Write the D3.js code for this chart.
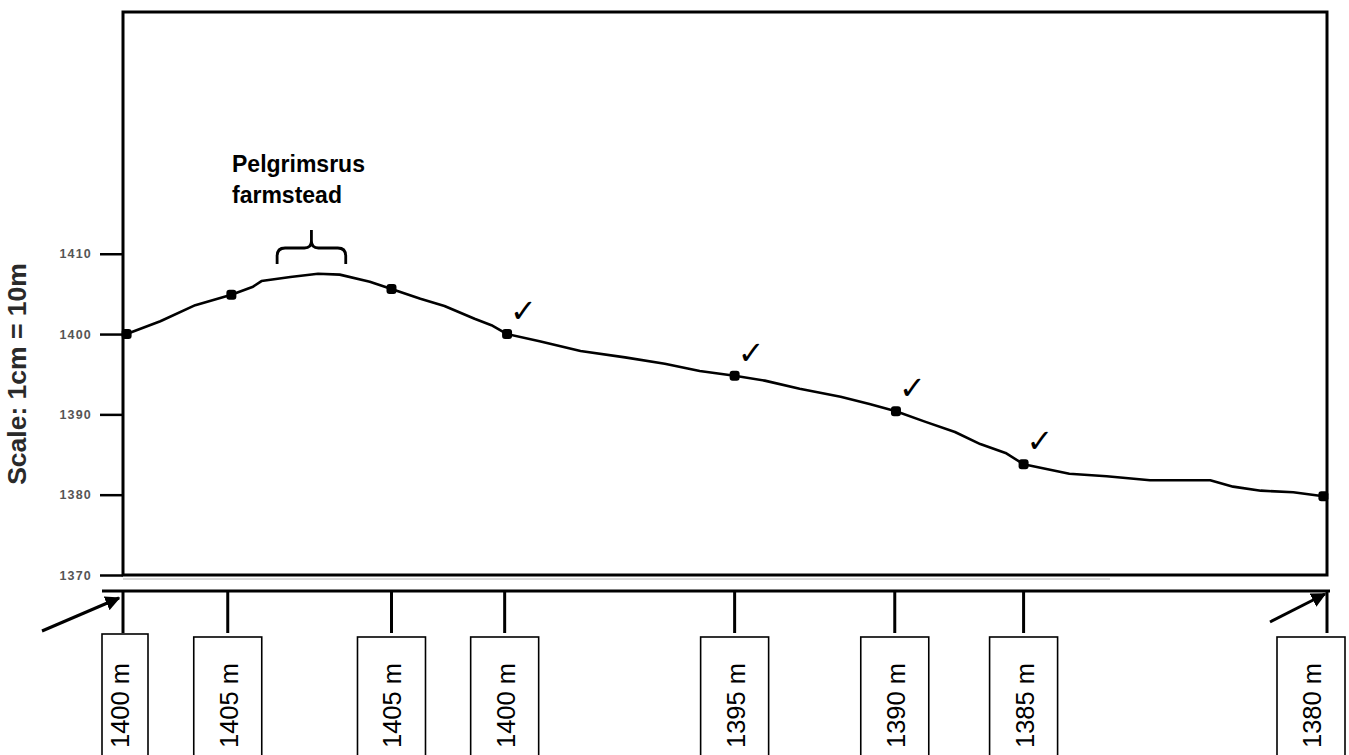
<!DOCTYPE html>
<html>
<head>
<meta charset="utf-8">
<script src="https://cdn.jsdelivr.net/npm/d3@7"></script>
<style>
  html, body { margin: 0; padding: 0; background: #fff; }
  svg { display: block; }
</style>
</head>
<body>
<svg id="chart" width="1349" height="755"></svg>
<script>
// ---- data ----
// profile trace: distance along section (0..100 units) and elevation (m)
const profileDist = [0.3, 3.1, 6.0, 9.0, 10.8, 11.5, 13.9, 16.2, 18.0, 20.5, 22.3, 24.7, 26.7, 29.2, 30.6, 31.9,
  34.6, 38.0, 41.7, 45.0, 47.9, 50.8, 53.3, 56.2, 59.6, 62.0, 64.2, 66.6, 69.1, 71.2, 73.3, 74.8,
  78.6, 81.7, 85.3, 90.3, 92.2, 94.5, 97.2, 99.7];
const profileElev = [1400.0, 1401.6, 1403.6, 1404.9, 1405.9, 1406.6, 1407.1, 1407.5, 1407.4, 1406.5, 1405.6, 1404.4, 1403.5, 1401.9, 1401.1, 1400.0,
  1399.1, 1397.9, 1397.1, 1396.3, 1395.4, 1394.8, 1394.2, 1393.2, 1392.2, 1391.3, 1390.4, 1389.1, 1387.8, 1386.3, 1385.2, 1383.8,
  1382.6, 1382.3, 1381.8, 1381.8, 1381.0, 1380.5, 1380.3, 1379.8];
// marked stations on the profile
const stationDist = [0.3, 9.0, 22.3, 31.9, 50.8, 64.2, 74.8, 99.7];
const stationElev = [1400.0, 1404.9, 1405.6, 1400.0, 1394.8, 1390.4, 1383.8, 1379.8];
const stationChecked = [false, false, false, true, true, true, true, false];
// lower reference strip: tick positions and labels
const stripDist = [0, 8.7, 22.3, 31.7, 50.8, 64.1, 74.8, 100];
const stripLabels = ["1400 m", "1405 m", "1405 m", "1400 m", "1395 m", "1390 m", "1385 m", "1380 m"];
// y-axis
const yTicks = [1370, 1380, 1390, 1400, 1410];
const yTitle = "Scale: 1cm = 10m";
const annotationLines = ["Pelgrimsrus", "farmstead"];
const annotationSpan = [12.8, 18.5]; // distance range covered by the brace

// ---- layout ----
const svg = d3.select("#chart");
const L = 123, R = 1327, T = 12, B = 575;
const x = d3.scaleLinear().domain([0, 100]).range([L, R]);
const y = d3.scaleLinear().domain([1370, 1440.1]).range([B, T]);

// defs: arrow head
svg.append("defs").append("marker")
  .attr("id", "ah").attr("viewBox", "0 0 10 10").attr("refX", 9).attr("refY", 5)
  .attr("markerWidth", 5).attr("markerHeight", 5).attr("orient", "auto")
  .attr("markerUnits", "strokeWidth")
  .append("path").attr("d", "M0,0 L10,5 L0,10 Z").attr("fill", "#000");

// faint shadow under the frame
svg.append("line").attr("x1", L).attr("x2", 1110).attr("y1", B + 4).attr("y2", B + 4)
  .attr("stroke", "#d8d8d8").attr("stroke-width", 2);

// frame
svg.append("rect").attr("x", L).attr("y", T).attr("width", R - L).attr("height", B - T)
  .attr("fill", "none").attr("stroke", "#000").attr("stroke-width", 3);

// y axis (ticks to the left)
const yAxis = d3.axisLeft(y).tickValues(yTicks).tickSize(23).tickPadding(8).tickFormat(d3.format("d"));
const gy = svg.append("g").attr("transform", `translate(${L},0)`).call(yAxis);
gy.select(".domain").remove();
gy.selectAll(".tick line").attr("stroke", "#000").attr("stroke-width", 2.5);
gy.selectAll(".tick text")
  .attr("font-family", "Liberation Sans, Arial, sans-serif")
  .attr("font-size", 12.5).attr("font-weight", "bold").attr("fill", "#555")
  .attr("letter-spacing", "1.2px");

// y title
svg.append("text")
  .attr("transform", `translate(26,${374}) rotate(-90)`)
  .attr("text-anchor", "middle")
  .attr("font-family", "Liberation Sans, Arial, sans-serif")
  .attr("font-size", 26.5).attr("font-weight", "bold").attr("fill", "#2a2a2a")
  .text(yTitle);

// profile line
const profile = profileDist.map((d, i) => [d, profileElev[i]]);
svg.append("path").datum(profile)
  .attr("fill", "none").attr("stroke", "#000").attr("stroke-width", 2.6)
  .attr("stroke-linejoin", "round")
  .attr("d", d3.line().x(d => x(d[0])).y(d => y(d[1])).curve(d3.curveLinear));

// stations
const stations = stationDist.map((d, i) => ({ d, e: stationElev[i], c: stationChecked[i] }));
svg.selectAll("rect.st").data(stations).enter().append("rect")
  .attr("class", "st")
  .attr("x", s => x(s.d) - 5).attr("y", s => y(s.e) - 5)
  .attr("width", 10).attr("height", 10).attr("rx", 3).attr("fill", "#000");

// check marks
svg.selectAll("text.ck").data(stations.filter(s => s.c)).enter().append("text")
  .attr("class", "ck")
  .attr("x", s => x(s.d) + 3).attr("y", s => y(s.e) - 12)
  .attr("font-family", "DejaVu Sans, sans-serif").attr("font-size", 32)
  .attr("fill", "#000").text("✓");

// annotation
const ann = svg.append("text")
  .attr("font-family", "Liberation Sans, Arial, sans-serif")
  .attr("font-size", 23).attr("font-weight", "bold").attr("fill", "#000");
ann.append("tspan").attr("x", 232).attr("y", 172).text(annotationLines[0]);
ann.append("tspan").attr("x", 232).attr("y", 203).text(annotationLines[1]);

// brace
const bx0 = x(annotationSpan[0]), bx1 = x(annotationSpan[1]), bm = (bx0 + bx1) / 2;
const yb = 264, yh = 248, yt = 230;
svg.append("path")
  .attr("d", `M${bx0},${yb} L${bx0},${yh + 8} Q${bx0},${yh} ${bx0 + 8},${yh} L${bm - 7},${yh} Q${bm},${yh} ${bm},${yh - 7} L${bm},${yt}
              M${bm},${yh - 7} Q${bm},${yh} ${bm + 7},${yh} L${bx1 - 8},${yh} Q${bx1},${yh} ${bx1},${yh + 8} L${bx1},${yb}`)
  .attr("fill", "none").attr("stroke", "#000").attr("stroke-width", 2.8);

// lower strip
const stripY = 591;
svg.append("line").attr("x1", 102).attr("x2", 1330).attr("y1", stripY).attr("y2", stripY)
  .attr("stroke", "#000").attr("stroke-width", 3);

const strip = stripDist.map((d, i) => ({ d, label: stripLabels[i], i }));
svg.selectAll("line.stk").data(strip).enter().append("line")
  .attr("class", "stk")
  .attr("x1", s => x(s.d)).attr("x2", s => x(s.d))
  .attr("y1", stripY).attr("y2", 633)
  .attr("stroke", "#000").attr("stroke-width", 3);

function boxOf(s) {
  const cx = x(s.d);
  let l = cx - 34, r = cx + 34;
  if (s.i === 0) { l = 102; r = cx + 25; }
  if (r > 1345) { r = 1345; l = r - 68; }
  return { l, r };
}
svg.selectAll("rect.box").data(strip).enter().append("rect")
  .attr("class", "box")
  .attr("x", s => boxOf(s).l).attr("y", s => s.i === 0 ? 634 : 637)
  .attr("width", s => boxOf(s).r - boxOf(s).l).attr("height", 140)
  .attr("fill", "#fff").attr("stroke", "#000").attr("stroke-width", 1.6);

svg.selectAll("text.lab").data(strip).enter().append("text")
  .attr("class", "lab")
  .attr("transform", s => { const b = boxOf(s); const cx = s.i === 0 ? 120 : (b.l + b.r) / 2 + 1; return `translate(${cx + 9},748) rotate(-90)`; })
  .attr("text-anchor", "start")
  .attr("font-family", "Liberation Sans, Arial, sans-serif")
  .attr("font-size", 25.5).attr("fill", "#000")
  .text(s => s.label);

// arrows
svg.append("line").attr("x1", 42).attr("y1", 631).attr("x2", 119).attr("y2", 598)
  .attr("stroke", "#000").attr("stroke-width", 3).attr("marker-end", "url(#ah)");
svg.append("line").attr("x1", 1270).attr("y1", 622).attr("x2", 1325).attr("y2", 594)
  .attr("stroke", "#000").attr("stroke-width", 3).attr("marker-end", "url(#ah)");
</script>
</body>
</html>
